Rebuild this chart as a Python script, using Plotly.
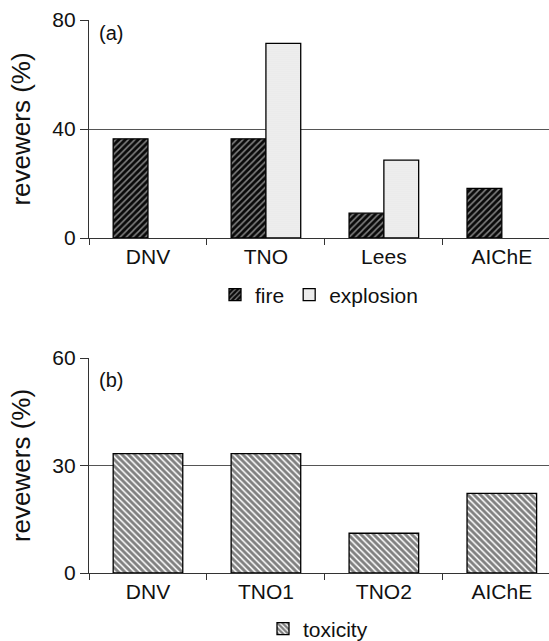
import plotly.graph_objects as go
from plotly.subplots import make_subplots

# Panel (a)
cats_a = ["DNV", "TNO", "Lees", "AIChE"]
fire = [36.4, 36.4, 9.1, 18.2]
explosion_cats = ["TNO", "Lees"]
explosion = [71.4, 28.6]

# Panel (b)
cats_b = ["DNV", "TNO1", "TNO2", "AIChE"]
toxicity = [33.3, 33.3, 11.1, 22.2]

FONT = "Liberation Sans, Arial, sans-serif"
W, H = 549, 641
L = 89

fig = make_subplots(rows=2, cols=1)

fig.add_trace(go.Bar(
    x=cats_a, y=fire, name="fire", offsetgroup="f",
    marker=dict(color="white", line=dict(color="black", width=1.3),
                pattern=dict(shape="/", fgcolor="white", bgcolor="#0a0a0a",
                             size=4.5, solidity=0.33)),
    legend="legend"), row=1, col=1)
fig.add_trace(go.Bar(
    x=explosion_cats, y=explosion, name="explosion", offsetgroup="e",
    marker=dict(color="white", line=dict(color="black", width=1.3),
                pattern=dict(shape=".", fgcolor="#bbbbbb", bgcolor="#f2f2f2",
                             size=2, solidity=0.3)),
    legend="legend"), row=1, col=1)
fig.add_trace(go.Bar(
    x=cats_b, y=toxicity, name="toxicity",
    marker=dict(color="white", line=dict(color="black", width=1.3),
                pattern=dict(shape="\\", fgcolor="#000", bgcolor="white",
                             size=4.5, solidity=0.65)),
    legend="legend2"), row=2, col=1)

axis_common = dict(
    showline=True, linecolor="#333", linewidth=1.2,
    ticks="outside", tickcolor="#333",
    tickfont=dict(family=FONT, size=21, color="#111"),
)

fig.update_xaxes(range=[-0.5, 3.4], tickson="boundaries",
                 ticklen=6, showgrid=False, zeroline=False, **axis_common)
fig.update_xaxes(categoryorder="array", categoryarray=cats_a, row=1, col=1)
fig.update_xaxes(categoryorder="array", categoryarray=cats_b, row=2, col=1)

ytitle = dict(text="revewers (%)", font=dict(family=FONT, size=26, color="#111"),
              standoff=14)
fig.update_yaxes(domain=[1 - 238 / H, 1 - 20 / H], range=[0, 80], dtick=40,
                 row=1, col=1)
fig.update_yaxes(domain=[1 - 573 / H, 1 - 358 / H], range=[0, 60], dtick=30,
                 row=2, col=1)
fig.update_yaxes(ticklen=8, showgrid=True, gridcolor="#555", gridwidth=1,
                 zeroline=False, title=ytitle, **axis_common)

fig.add_annotation(text="(a)", xref="x domain", yref="y domain", x=0.017,
                   y=(238 - 33) / 218, xanchor="left", yanchor="middle",
                   showarrow=False, font=dict(family=FONT, size=20, color="#111"))
fig.add_annotation(text="(b)", xref="x2 domain", yref="y2 domain", x=0.017,
                   y=(573 - 380) / 215, xanchor="left", yanchor="middle",
                   showarrow=False, font=dict(family=FONT, size=20, color="#111"))

legend_font = dict(family=FONT, size=21, color="#111")
fig.update_layout(
    width=W, height=H,
    margin=dict(l=L, r=0, t=0, b=0, autoexpand=False),
    paper_bgcolor="white", plot_bgcolor="white",
    barmode="group", bargap=0.41, bargroupgap=0,
    legend=dict(orientation="h", xref="paper", yref="paper",
                x=(319 - L) / (W - L), y=1 - 295 / H,
                xanchor="center", yanchor="middle",
                font=legend_font, bgcolor="rgba(0,0,0,0)", itemwidth=30),
    legend2=dict(orientation="h", xref="paper", yref="paper",
                 x=(318 - L) / (W - L), y=1 - 629 / H,
                 xanchor="center", yanchor="middle",
                 font=legend_font, bgcolor="rgba(0,0,0,0)", itemwidth=30),
    showlegend=True,
)

fig.write_html("out.html")
